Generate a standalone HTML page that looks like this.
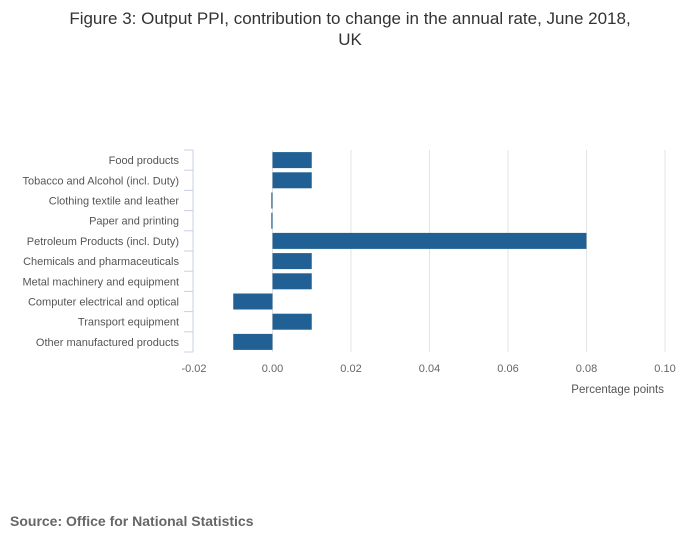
<!DOCTYPE html>
<html><head><meta charset="utf-8"><style>
body{margin:0;background:#fff;font-family:"Liberation Sans",sans-serif;}
</style></head><body>
<svg width="700" height="549" xmlns="http://www.w3.org/2000/svg" font-family="Liberation Sans, sans-serif">
<text x="350" y="24" text-anchor="middle" font-size="17" fill="#333">Figure 3: Output PPI, contribution to change in the annual rate, June 2018,</text>
<text x="350" y="45" text-anchor="middle" font-size="17" fill="#333">UK</text>
<g id="grid"></g><g id="bars"></g><g id="yaxis"></g><g id="xaxis"></g>
<text x="664" y="393" text-anchor="end" font-size="11.5" fill="#555">Percentage points</text>
<text x="10" y="526" font-size="14" font-weight="bold" fill="#666">Source: Office for National Statistics</text>
</svg>
<script>
const categories=["Food products","Tobacco and Alcohol (incl. Duty)","Clothing textile and leather","Paper and printing","Petroleum Products (incl. Duty)","Chemicals and pharmaceuticals","Metal machinery and equipment","Computer electrical and optical","Transport equipment","Other manufactured products"];
const values=[0.01,0.01,-0.0003,-0.0003,0.08,0.01,0.01,-0.01,0.01,-0.01];
const xTicks=[-0.02,0,0.02,0.04,0.06,0.08,0.10];
const xTickLabels=["-0.02","0.00","0.02","0.04","0.06","0.08","0.10"];
const NS="http://www.w3.org/2000/svg";
const plotX0=194,plotX1=665,plotTop=150,plotBottom=352,xmin=-0.02,xmax=0.10;
const sx=v=>plotX0+(v-xmin)/(xmax-xmin)*(plotX1-plotX0);
const band=(plotBottom-plotTop)/categories.length;
function mk(t,a,p){const e=document.createElementNS(NS,t);for(const k in a)e.setAttribute(k,a[k]);document.getElementById(p).appendChild(e);return e;}
xTicks.forEach((t,i)=>{
 if(i>0){const l=mk('line',{x1:sx(t),x2:sx(t),y1:plotTop,y2:plotBottom,stroke:'#e3e3e3'},'grid');
 
 }
 const tx=mk('text',{x:sx(t),y:372,'text-anchor':'middle','font-size':'11',fill:'#666'},'xaxis');
 tx.textContent=xTickLabels[i];
 
 
});
const ax=mk('line',{x1:193,x2:193,y1:plotTop,y2:plotBottom,stroke:'#c8d0e6'},'yaxis');


for(let i=0;i<=categories.length;i++){
 const y=plotTop+i*band;
 const tk=mk('line',{x1:184,x2:193,y1:y,y2:y,stroke:'#c8d0e6'},'yaxis');
 
 
}
categories.forEach((c,i)=>{
 const cy=plotTop+(i+0.5)*band;
 const t=mk('text',{x:179,y:cy+4,'text-anchor':'end','font-size':'11',fill:'#555'},'yaxis');
 t.textContent=c;
 
 
 const v=values[i];const a=sx(0),b=sx(v);
 const r=mk('rect',{x:Math.min(a,b),y:cy-8,width:Math.max(1,Math.abs(b-a)),height:16,fill:'#206095'},'bars');
 
 
});
</script>
</body></html>
